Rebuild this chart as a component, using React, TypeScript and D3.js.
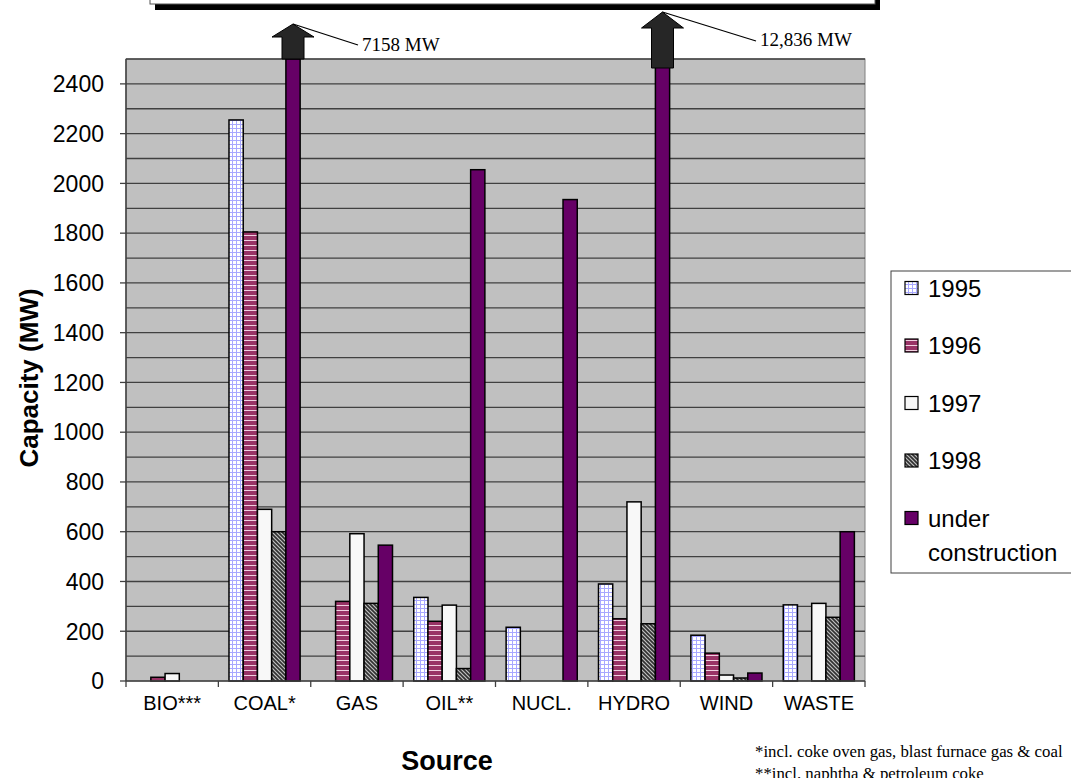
import React from "react";
import * as d3 from "d3";

const categories = ["BIO***", "COAL*", "GAS", "OIL**", "NUCL.", "HYDRO", "WIND", "WASTE"];
const seriesNames = ["1995", "1996", "1997", "1998", "under construction"];
const v1995 = [0, 2255, 0, 336, 216, 390, 184, 306];
const v1996 = [15, 1805, 320, 240, 0, 250, 112, 0];
const v1997 = [30, 690, 592, 305, 0, 720, 24, 312];
const v1998 = [0, 600, 312, 50, 0, 230, 12, 256];
const vUnder = [0, 7158, 546, 2055, 1935, 12836, 32, 600];
const yTicks = [0, 200, 400, 600, 800, 1000, 1200, 1400, 1600, 1800, 2000, 2200, 2400];
const overflowLabels = ["7158 MW", "12,836 MW"];
const footnotes = ["*incl. coke oven gas, blast furnace gas & coal", "**incl. naphtha & petroleum coke"];

const W = 1071, H = 778;
const L = 126, R = 865, T = 59, B = 681;
const SANS = "Arial, 'Liberation Sans', sans-serif";
const SERIF = "'Times New Roman', 'Liberation Serif', serif";

export default function App() {
  const series = [v1995, v1996, v1997, v1998, vUnder];
  const x0 = d3.scaleBand().domain(categories).range([L, R]).paddingInner(0.23).paddingOuter(0.115);
  const x1 = d3.scaleBand().domain(seriesNames).range([0, x0.bandwidth()]);
  const y = d3.scaleLinear().domain([0, 2500]).range([B, T]);
  const step = x0.step();
  const fills = ["url(#p1995)", "url(#p1996)", "#F8F8F8", "url(#p1998)", "#660066"];
  const grid = d3.range(100, 2501, 100);

  const over = categories.map((c, i) => ({ c, v: vUnder[i] })).filter(d => d.v > 2500);
  const arrowCfg = [
    { apex: 24, base: 37, bottom: T, tx: 362, ty: 51, lx: 358, ly: 45 },
    { apex: 12, base: 28, bottom: 68, tx: 760, ty: 46, lx: 756, ly: 41 },
  ];

  return (
    <svg width={W} height={H} style={{ position: "absolute", left: 0, top: 0, background: "#fff" }}>
      <defs>
        <pattern id="p1995" width="4" height="4" patternUnits="userSpaceOnUse">
          <rect width="4" height="4" fill="#ffffff" />
          <rect x="0" y="0" width="4" height="1" fill="#A8A8FF" />
          <rect x="0" y="0" width="1" height="4" fill="#A8A8FF" />
        </pattern>
        <pattern id="p1996" width="4" height="5" patternUnits="userSpaceOnUse">
          <rect width="4" height="5" fill="#993366" />
          <rect x="0" y="0" width="4" height="1" fill="#F0D0E0" />
        </pattern>
        <pattern id="p1998" width="4" height="4" patternUnits="userSpaceOnUse">
          <rect width="4" height="4" fill="#303030" />
          <path d="M-1,-1 L5,5 M-1,3 L1,5 M3,-1 L5,1" stroke="#C0C0C0" strokeWidth="1.2" />
        </pattern>
        <clipPath id="plotClip">
          <rect x={L} y={T} width={R - L} height={B - T + 2} />
        </clipPath>
      </defs>

      {/* title box remnant */}
      <rect x={155} y={-10} width={725} height={20} fill="#000" />
      <rect x={150} y={-10} width={725} height={14} fill="#fff" stroke="#555" strokeWidth={1} />

      {/* plot background */}
      <rect x={L} y={T} width={R - L} height={B - T} fill="#C0C0C0" stroke="#808080" strokeWidth={1} />
      {grid.map(g => (
        <line key={g} x1={L} x2={R} y1={y(g)} y2={y(g)} stroke="#404040" strokeWidth={1.3} />
      ))}

      {/* bars */}
      <g clipPath="url(#plotClip)">
        {categories.map((c, i) => (
          <g key={c}>
            {series.map((s, j) => {
              const v = s[i];
              if (v <= 0) return null;
              const yy = y(Math.min(v, 2500));
              return (
                <rect key={j} x={(x0(c) as number) + (x1(seriesNames[j]) as number)} y={yy}
                  width={x1.bandwidth()} height={B - yy} fill={fills[j]} stroke="#000" strokeWidth={1.5} />
              );
            })}
          </g>
        ))}
      </g>

      {/* axes */}
      <line x1={L} x2={L} y1={T} y2={B} stroke="#404040" strokeWidth={1.5} />
      <line x1={L} x2={R} y1={B} y2={B} stroke="#404040" strokeWidth={1.5} />
      {yTicks.map(t => (
        <g key={t}>
          <line x1={L - 6} x2={L} y1={y(t)} y2={y(t)} stroke="#404040" strokeWidth={1.3} />
          <text x={104} y={y(t)} dy="0.36em" textAnchor="end" fontFamily={SANS} fontSize={23} fill="#000">{t}</text>
        </g>
      ))}
      {d3.range(0, categories.length + 1).map(k => (
        <line key={k} x1={L + k * step} x2={L + k * step} y1={B} y2={B + 6} stroke="#404040" strokeWidth={1.3} />
      ))}
      {categories.map(c => (
        <text key={c} x={(x0(c) as number) + x0.bandwidth() / 2} y={B + 29} textAnchor="middle"
          fontFamily={SANS} fontSize={20} fill="#000">{c}</text>
      ))}

      {/* axis titles */}
      <text transform={`translate(38,378) rotate(-90)`} textAnchor="middle"
        fontFamily={SANS} fontWeight="bold" fontSize={26} fill="#000">Capacity (MW)</text>
      <text x={447} y={770} textAnchor="middle" fontFamily={SANS}
        fontWeight="bold" fontSize={27} fill="#000">Source</text>

      {/* overflow arrows */}
      {over.map((d, k) => {
        const cx = (x0(d.c) as number) + (x1(seriesNames[4]) as number) + x1.bandwidth() / 2;
        const a = arrowCfg[k];
        const sw = 11, hw = 21;
        const path = `M${cx},${a.apex} L${cx + hw},${a.base} L${cx + sw},${a.base} L${cx + sw},${a.bottom} L${cx - sw},${a.bottom} L${cx - sw},${a.base} L${cx - hw},${a.base} Z`;
        return (
          <g key={d.c}>
            <path d={path} fill="#262626" stroke="#000" strokeWidth={1} />
            <line x1={cx} y1={a.apex} x2={a.lx} y2={a.ly} stroke="#000" strokeWidth={1.3} />
            <text x={a.tx} y={a.ty} fontFamily={SERIF} fontSize={19} fill="#000">{overflowLabels[k]}</text>
          </g>
        );
      })}

      {/* legend */}
      <rect x={891} y={271} width={190} height={302} fill="#fff" stroke="#404040" strokeWidth={1} />
      {seriesNames.map((s, j) => {
        const cy = 288 + j * 57.5;
        return (
          <g key={s}>
            <rect x={905} y={cy - 6.5} width={13} height={13} fill={fills[j]} stroke="#000" strokeWidth={1.2} />
            {s === "under construction" ? (
              <text x={928} y={cy} dy="0.36em" fontFamily={SANS} fontSize={24} fill="#000">
                <tspan x={928}>under</tspan>
                <tspan x={928} dy={34}>construction</tspan>
              </text>
            ) : (
              <text x={928} y={cy} dy="0.36em" fontFamily={SANS} fontSize={24} fill="#000">{s}</text>
            )}
          </g>
        );
      })}

      {/* footnotes */}
      {footnotes.map((f, k) => (
        <text key={k} x={755} y={757 + k * 22} fontFamily={SERIF} fontSize={16.8} fill="#000">{f}</text>
      ))}
    </svg>
  );
}
